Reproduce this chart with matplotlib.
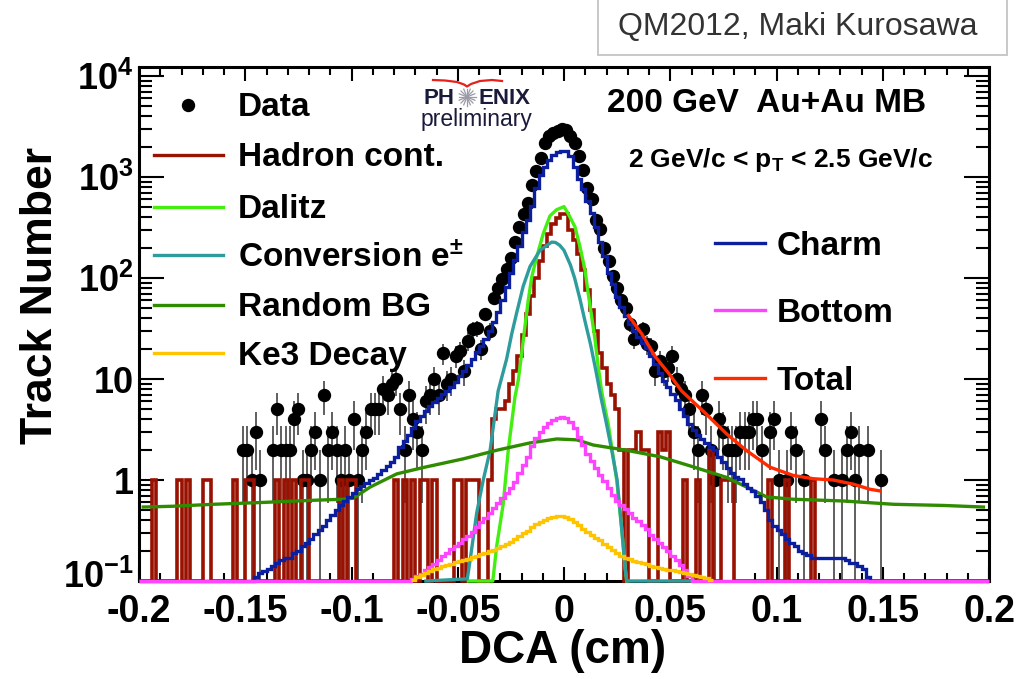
import numpy as np
import matplotlib
matplotlib.use("Agg")
import matplotlib.pyplot as plt
from matplotlib.lines import Line2D
from matplotlib.patches import Rectangle
from matplotlib.transforms import ScaledTranslation
from matplotlib.ticker import MultipleLocator, LogLocator, NullFormatter

plt.rcParams['font.family'] = ['Liberation Sans', 'DejaVu Sans']
plt.rcParams['font.weight'] = 'bold'
plt.rcParams['mathtext.fontset'] = 'custom'
plt.rcParams['mathtext.rm'] = 'Liberation Sans:bold'
plt.rcParams['mathtext.bf'] = 'Liberation Sans:bold'
plt.rcParams['mathtext.it'] = 'Liberation Sans:bold'
plt.rcParams['mathtext.sf'] = 'Liberation Sans:bold'

# ---------------- chart values ----------------
x_tick_values = [-0.2, -0.15, -0.1, -0.05, 0.0, 0.05, 0.1, 0.15, 0.2]
x_tick_labels = ['-0.2', '-0.15', '-0.1', '-0.05', '0', '0.05', '0.1', '0.15', '0.2']
y_tick_values = [0.1, 1, 10, 100, 1000, 10000]
y_tick_labels = [r'$\mathbf{10^{-1}}$', '1', '10', r'$\mathbf{10^{2}}$',
                 r'$\mathbf{10^{3}}$', r'$\mathbf{10^{4}}$']

bin_edges = np.linspace(-0.2, 0.2, 201)   # 0.002 cm bins

# Data (track counts per bin, contiguous from first bin centre)
data_first_bin = -0.151
data_counts = [2, 2, 1, 3, 1, 0, 0, 2, 5, 2, 2, 2, 4, 5, 1, 1, 2, 3, 1, 7,
               2, 3, 2, 1, 2, 1, 4, 1, 2, 3, 5, 5, 5, 8, 7, 9, 10, 5, 2, 7,
               4, 3, 2, 6, 7, 10, 7, 18, 9, 10, 17, 19, 12, 24, 31, 32, 20, 44, 30, 64,
               79, 97, 123, 159, 226, 321, 433, 551, 840, 1140, 1545, 2195, 2525, 2725, 2856, 2987,
               2915, 2525, 2150, 1615, 1170, 784, 604, 377, 306, 197, 149, 104, 79, 61, 51,
               35, 25, 27, 31, 22, 21, 12, 15, 12, 13, 17, 10, 8, 7, 5, 3, 2, 7, 5, 2,
               1, 4, 3, 2, 2, 2, 3, 3, 3, 4, 4, 2, 0, 3, 4, 1, 0, 1, 3, 2,
               0, 1, 0, 0, 0, 4, 2, 0, 1, 0, 1, 2, 3, 1, 2, 0, 2, 0, 0, 1]

# Hadron contamination (sparse bins)
hadron_bins = [-0.193, -0.181, -0.177, -0.169, -0.167, -0.155, -0.149, -0.147, -0.135, -0.131,
               -0.127, -0.123, -0.121, -0.105, -0.101, -0.099, -0.079, -0.075, -0.071, -0.067,
               -0.065, -0.061, -0.051, -0.049, -0.045, -0.043, -0.041, -0.035,
               -0.033, -0.031, -0.029, -0.027, -0.025, -0.023, -0.021, -0.019, -0.017, -0.015,
               -0.013, -0.011, -0.009, -0.007, -0.005, -0.003, -0.001, 0.001, 0.003, 0.005,
               0.007, 0.009, 0.011, 0.013, 0.015, 0.017, 0.019, 0.021, 0.023, 0.025, 0.027,
               0.031, 0.033, 0.035, 0.037, 0.039, 0.045, 0.047, 0.049, 0.057, 0.063, 0.069,
               0.075, 0.077, 0.079, 0.097, 0.105, 0.117]
hadron_counts = [1, 1, 1, 1, 1, 1, 1, 1, 1, 1,
                 1, 1, 1, 1, 1, 1, 1, 1, 1, 1,
                 1, 1, 1, 1, 1, 1, 1, 1,
                 4, 5, 5, 6, 9, 12, 17, 27, 44, 67,
                 100, 149, 206, 272, 344, 397, 435, 435, 299, 237,
                 175, 120, 76, 48, 30, 18, 13, 9, 7, 5, 2,
                 2, 2, 3, 2, 2, 3, 2, 3, 1, 1, 2,
                 1, 1, 1, 1, 1, 1]

# Charm (contiguous from first bin centre)
charm_first_bin = -0.147
charm_counts = [0.10, 0.11, 0.12, 0.126, 0.13, 0.14, 0.15, 0.16, 0.17, 0.17,
                0.19, 0.20, 0.22, 0.24, 0.26, 0.29, 0.32, 0.35, 0.40, 0.45,
                0.50, 0.56, 0.62, 0.68, 0.74, 0.81, 0.87, 0.93, 1.0, 1.05,
                1.15, 1.26, 1.38, 1.51, 1.70, 2.1, 2.45, 2.8, 3.3, 3.8,
                4.3, 4.8, 5.4, 5.9, 6.5, 7.1, 7.6, 8.3, 9.4, 10.7,
                12.0, 13.8, 15.9, 18.7, 21.0, 24.8, 29.8, 37.0, 46.5, 60.0,
                81.5, 112, 152, 206, 286, 379, 515, 785, 1040, 1250,
                1480, 1660, 1780, 1830,
                1830, 1620, 1250, 965, 765, 578, 437, 322, 227, 164,
                112, 86.5, 65.4, 51.8, 42.0, 34.8, 30.0, 26.2, 22.8, 20.2,
                17.1, 14.2, 11.5, 9.6, 8.3, 7.1, 6.2, 5.1, 4.3, 3.55,
                3.1, 2.8, 2.55, 2.3, 2.1, 1.97, 1.7, 1.5, 1.32, 1.17,
                1.07, 1.02, 0.92, 0.84, 0.77, 0.70, 0.61, 0.50, 0.40, 0.35,
                0.32, 0.29, 0.26, 0.24, 0.22, 0.20, 0.19, 0.18, 0.17, 0.17,
                0.17, 0.17, 0.17, 0.17, 0.17, 0.17, 0.16, 0.15, 0.15, 0.14,
                0.13, 0.11, 0.09]

# Bottom (contiguous)
bottom_first_bin = -0.071
bottom_counts = [0.105, 0.112, 0.117, 0.129, 0.138, 0.148, 0.162, 0.178, 0.19, 0.209,
                 0.224, 0.24, 0.263, 0.282, 0.309, 0.339, 0.38, 0.417, 0.468, 0.525,
                 0.589, 0.661, 0.741, 0.832, 0.955, 1.18, 1.40, 1.70, 2.15, 2.6,
                 2.98, 3.36, 3.68, 3.95, 4.14, 4.23,
                 4.14, 3.77, 3.28, 2.66, 2.2, 1.82, 1.54, 1.31, 1.11, 0.98,
                 0.832, 0.708, 0.617, 0.562, 0.513, 0.468, 0.417, 0.389, 0.355, 0.324,
                 0.288, 0.263, 0.24, 0.219, 0.2, 0.178, 0.162, 0.145, 0.129, 0.112, 0.095]

# Ke3 decay (contiguous)
ke3_first_bin = -0.071
ke3_counts = [0.102, 0.110, 0.115, 0.120, 0.126, 0.132, 0.135, 0.141, 0.145, 0.148,
              0.155, 0.158, 0.162, 0.166, 0.174, 0.178, 0.186, 0.191, 0.200, 0.204,
              0.214, 0.224, 0.234, 0.245, 0.263, 0.282, 0.302, 0.316, 0.339, 0.363,
              0.380, 0.398, 0.417, 0.427, 0.437, 0.437,
              0.427, 0.407, 0.380, 0.355, 0.331, 0.309, 0.288, 0.269, 0.257, 0.234,
              0.219, 0.204, 0.191, 0.178, 0.170, 0.166, 0.158, 0.155, 0.151, 0.148,
              0.141, 0.138, 0.135, 0.132, 0.129, 0.129, 0.126, 0.123, 0.120, 0.117,
              0.115, 0.112, 0.110, 0.107, 0.102]

# Smooth curves
dalitz_x = [-0.045, -0.0335, -0.0317, -0.0286, -0.0262, -0.0231, -0.0215, -0.0199, -0.0184,
            -0.0168, -0.0152, -0.0128, -0.0097, -0.0066, -0.0035, 0.0, 0.002, 0.0052, 0.0075,
            0.0099, 0.0114, 0.013, 0.0146, 0.0161, 0.0177, 0.0193, 0.0208, 0.0248, 0.0272,
            0.0287, 0.0295]
dalitz_y = [0.1, 0.1, 0.22, 0.58, 2.0, 6.6, 9.8, 18.0, 33.0,
            61.0, 102, 163, 278, 413, 475, 510, 433, 320, 205,
            120, 70, 42, 24.5, 13.3, 7.6, 5.1, 3.6, 1.0, 0.32,
            0.14, 0.1]

conv_x = [-0.065, -0.0455, -0.0442, -0.0411, -0.038, -0.0348, -0.031, -0.027, -0.0246,
          -0.0223, -0.0192, -0.016, -0.0113, -0.008, -0.0058, -0.004, -0.002, 0.0, 0.003,
          0.005, 0.0075, 0.01, 0.0125, 0.015, 0.0175, 0.02, 0.0225, 0.025, 0.0272,
          0.0287, 0.0295, 0.061]
conv_y = [0.1, 0.105, 0.16, 0.47, 1.0, 1.95, 7.6, 15.8, 28.0,
          45.0, 83.0, 130, 188, 211, 227, 225, 211, 188, 135,
          100, 62, 36.5, 22.0, 12.1, 6.4, 3.6, 1.95, 1.0, 0.32,
          0.14, 0.1, 0.1]

randbg_x = [-0.198, -0.1839, -0.165, -0.1415, -0.118, -0.1039, -0.0992, -0.0913, -0.0787,
            -0.0662, -0.0474, -0.0317, -0.016, -0.0034, 0.006, 0.0138, 0.0295, 0.0452,
            0.0608, 0.0766, 0.086, 0.0954, 0.1079, 0.1315, 0.155, 0.1786, 0.1974]
randbg_y = [0.54, 0.55, 0.575, 0.60, 0.63, 0.645, 0.66, 0.85, 1.15,
            1.33, 1.62, 1.97, 2.33, 2.55, 2.5, 2.22, 1.97, 1.7,
            1.35, 1.06, 0.85, 0.68, 0.645, 0.62, 0.575, 0.56, 0.54]

total_x = [0.0303, 0.0366, 0.0428, 0.0491, 0.0554, 0.066, 0.0766, 0.086, 0.0969,
           0.1079, 0.1173, 0.1267, 0.1361, 0.144, 0.1487]
total_y = [42.5, 28.0, 16.8, 11.5, 7.6, 4.7, 2.85, 1.95, 1.34,
           1.11, 1.03, 1.0, 0.91, 0.81, 0.78]

# ---------------- helpers ----------------
centers = 0.5 * (bin_edges[:-1] + bin_edges[1:])


def fill_contiguous(first_center, counts):
    full = np.zeros(centers.size)
    i0 = int(np.argmin(np.abs(centers - first_center)))
    full[i0:i0 + len(counts)] = counts
    return full


def fill_sparse(bin_x, counts):
    full = np.zeros(centers.size)
    for xv, c in zip(bin_x, counts):
        full[int(np.argmin(np.abs(centers - xv)))] = c
    return full


FLOOR = y_tick_values[0]
W, H = 1021, 679


def P(px, py):
    return px / W, 1 - py / H


fig = plt.figure(figsize=(W / 100, H / 100), dpi=100)
ax = fig.add_axes([139 / W, (H - 581) / H, 850 / W, 514 / H])
ax.set_yscale('log')

col_data = 'black'
col_hadron = '#991100'
col_dalitz = '#44ee11'
col_conv = '#2e9c9c'
col_rand = '#2f8c00'
col_ke3 = '#ffc400'
col_charm = '#0b1f9e'
col_bottom = '#ff44ff'
col_total = '#ff2a00'
MS = 8.6

# data points
dfull = fill_contiguous(data_first_bin, data_counts)
m = dfull > 0
dx, dn = centers[m], dfull[m]
lo = np.minimum(np.sqrt(dn), dn * 0.999)
hi = np.sqrt(dn)
ax.errorbar(dx, dn, yerr=[lo, hi], fmt='o', color=col_data, ms=MS,
            ecolor='#444444', elinewidth=1.2, capsize=0, zorder=3)

# hadron contamination
had = fill_sparse(hadron_bins, hadron_counts)
ax.stairs(np.maximum(had, FLOOR), bin_edges, baseline=None, color=col_hadron,
          lw=2.6, zorder=4, clip_on=False)

# dalitz, conversion
ax.plot(dalitz_x, dalitz_y, color=col_dalitz, lw=2.4, zorder=5, clip_on=False)
ax.plot(conv_x, conv_y, color=col_conv, lw=2.4, zorder=6, clip_on=False)

# random BG
ax.plot(randbg_x, randbg_y, color=col_rand, lw=2.4, zorder=7)

# charm
ch = fill_contiguous(charm_first_bin, charm_counts)
ax.stairs(np.maximum(ch, FLOOR), bin_edges, baseline=None, color=col_charm,
          lw=2.4, zorder=8, clip_on=False)

# bottom
bt = fill_contiguous(bottom_first_bin, bottom_counts)
ax.stairs(np.maximum(bt, FLOOR), bin_edges, baseline=None, color=col_bottom,
          lw=2.4, zorder=9, clip_on=False)

# ke3
k3 = fill_contiguous(ke3_first_bin, ke3_counts)
nz = np.nonzero(k3)[0]
i0, i1 = nz[0], nz[-1] + 1
ax.stairs(k3[i0:i1], bin_edges[i0:i1 + 1], baseline=None, color=col_ke3,
          lw=2.4, zorder=10, clip_on=False)

# total
ax.plot(total_x, total_y, color=col_total, lw=2.4, zorder=11)

# ---------------- axes ----------------
ax.set_xlim(-0.2, 0.2)
ax.set_ylim(0.1, 1.23e4)
ax.set_xticks(x_tick_values)
ax.set_xticklabels(x_tick_labels)
ax.xaxis.set_minor_locator(MultipleLocator(0.01))
ax.set_yticks(y_tick_values)
ax.set_yticklabels(y_tick_labels)
ax.yaxis.set_minor_locator(LogLocator(base=10, subs=np.arange(2, 10)))
ax.yaxis.set_minor_formatter(NullFormatter())
ax.tick_params(which='both', direction='in', top=True, right=True, width=1.5,
               colors='black')
ax.xaxis.set_tick_params(which='major', length=10, pad=9, labelsize=27)
ax.xaxis.set_tick_params(which='minor', length=5.5)
ax.yaxis.set_tick_params(which='major', length=18, pad=4, labelsize=26)
ax.yaxis.set_tick_params(which='minor', length=9.5)
for lab in ax.get_xticklabels() + ax.get_yticklabels():
    lab.set_fontweight('bold')
first_ylab = ax.yaxis.get_major_ticks()[0].label1
first_ylab.set_transform(first_ylab.get_transform() +
                         ScaledTranslation(0, 5 / 72, fig.dpi_scale_trans))
for s in ax.spines.values():
    s.set_linewidth(2.2)

fig.text(*P(40, 295), 'Track Number', rotation=90, ha='center', va='center',
         fontsize=32, fontweight='bold')
fig.text(*P(563, 651), 'DCA (cm)', ha='center', va='center',
         fontsize=33, fontweight='bold')

# ---------------- legends ----------------
leg_fs = 24
TXT_DY = 3
left_entries = [('Data', None, 105), ('Hadron cont.', col_hadron, 155),
                ('Dalitz', col_dalitz, 207), (r'Conversion e$^{\pm}$', col_conv, 255),
                ('Random BG', col_rand, 305), ('Ke3 Decay', col_ke3, 353)]
for label, col, py in left_entries:
    if col is None:
        fig.add_artist(Line2D([P(188, py)[0]], [P(188, py)[1]], marker='o', ms=MS,
                              color='black', transform=fig.transFigure))
    else:
        x0, y0 = P(154, py)
        x1, _ = P(223, py)
        fig.add_artist(Line2D([x0, x1], [y0, y0], color=col, lw=2.4,
                              transform=fig.transFigure))
    fig.text(*P(238, py + TXT_DY), label, ha='left', va='center', fontsize=leg_fs,
             fontweight='bold')

right_entries = [('Charm', col_charm, 243), ('Bottom', col_bottom, 310),
                 ('Total', col_total, 378)]
for label, col, py in right_entries:
    x0, y0 = P(715, py)
    x1, _ = P(765, py)
    fig.add_artist(Line2D([x0, x1], [y0, y0], color=col, lw=2.4,
                          transform=fig.transFigure))
    fig.text(*P(777, py + TXT_DY), label, ha='left', va='center', fontsize=leg_fs,
             fontweight='bold')

fig.text(*P(607, 104), '200 GeV  Au+Au MB', ha='left', va='center',
         fontsize=24, fontweight='bold')
fig.text(*P(628, 160), r'2 GeV/c < p$_{\mathbf{T}}$ < 2.5 GeV/c', ha='left',
         va='center', fontsize=19, fontweight='bold')

# PHENIX preliminary logo
navy = '#1a1a3a'
fig.text(*P(423, 104), 'PH', ha='left', va='baseline', fontsize=16,
         fontweight='bold', color=navy)
fig.text(*P(478, 104), 'ENIX', ha='left', va='baseline', fontsize=16,
         fontweight='bold', color=navy)
fig.text(*P(421, 108), 'preliminary', ha='left', va='top', fontsize=16.5,
         fontweight='normal', color=navy)
cx, cy = 467, 97
for ang in np.linspace(0, np.pi, 8, endpoint=False):
    dxp, dyp = 8.5 * np.cos(ang), 8.5 * np.sin(ang)
    a = P(cx - dxp, cy - dyp)
    b = P(cx + dxp, cy + dyp)
    fig.add_artist(Line2D([a[0], b[0]], [a[1], b[1]], color='#9a9aa8', lw=0.9,
                          transform=fig.transFigure))
sw_px = [433, 445, 457, 464, 467, 471, 480, 492, 502]
sw_py = [80, 80.5, 82, 84.5, 86.5, 84, 81, 80, 81]
fig.add_artist(Line2D([p / W for p in sw_px], [1 - q / H for q in sw_py],
                      color='#e8201a', lw=1.6, transform=fig.transFigure))

# credit box
fig.add_artist(Rectangle(P(598, 55), 409 / W, 0.2, transform=fig.transFigure,
                         facecolor='white', edgecolor='#c4c4c4', lw=1.3,
                         clip_on=False))
fig.text(*P(798, 27), 'QM2012, Maki Kurosawa', ha='center', va='center',
         fontsize=23, fontweight='normal', color='#333333')

fig.savefig('out.png', dpi=100)
